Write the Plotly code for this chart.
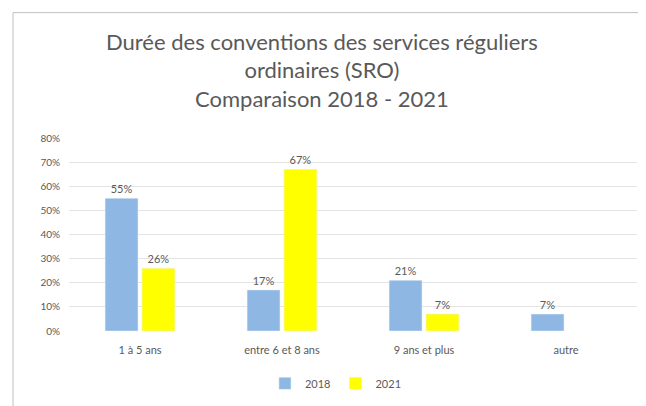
import plotly.graph_objects as go

categories = ["1 à 5 ans", "entre 6 et 8 ans", "9 ans et plus", "autre"]
values_2018 = [0.55, 0.17, 0.21, 0.07]
values_2021 = [0.26, 0.67, 0.07, None]
labels_2018 = ["55%", "17%", "21%", "7%"]
labels_2021 = ["26%", "67%", "7%", ""]

# page body adds an 8px margin, so the figure is a bit smaller than the window
W, H = 638, 398
ML, MR, MT, MB = 61, 9, 130, 74
font_family = "Lato, 'Open Sans', sans-serif"
grey = "#595959"

fig = go.Figure()
fig.add_trace(go.Bar(
    x=categories, y=values_2018, name="2018",
    marker=dict(color="#8EB8E3"),
    text=labels_2018, textposition="outside",
    textfont=dict(size=11, color=grey), cliponaxis=False,
))
fig.add_trace(go.Bar(
    x=categories, y=values_2021, name="2021",
    marker=dict(color="#FFFF00"),
    text=labels_2021, textposition="outside",
    textfont=dict(size=11, color=grey), cliponaxis=False,
))

# chart frame (pixel -> paper coords)
pw, ph = W - ML - MR, H - MT - MB
def px_x(x):
    return (x - ML) / pw
def px_y(y):
    return (H - MB - y) / ph

fig.add_shape(type="rect", xref="paper", yref="paper",
              x0=px_x(5), x1=px_x(700), y0=px_y(460), y1=px_y(4),
              line=dict(color="#BFBFBF", width=1), fillcolor="rgba(0,0,0,0)", layer="below")

fig.update_layout(
    width=W, height=H,
    margin=dict(l=ML, r=MR, t=MT, b=MB),
    paper_bgcolor="white", plot_bgcolor="white",
    font=dict(family=font_family, color=grey),
    title=dict(
        text="Durée des conventions des services réguliers<br>ordinaires (SRO)<br>Comparaison 2018 - 2021",
        x=0.492, xanchor="center", y=0.895, yanchor="top",
        font=dict(size=22, color=grey, family=font_family),
    ),
    barmode="group", bargap=0.48, bargroupgap=0.11,
    showlegend=True,
    legend=dict(orientation="h", x=0.47, xanchor="center", y=-0.19, yanchor="top",
                font=dict(size=11, color=grey)),
)
fig.update_xaxes(showline=False, ticks="", ticklabelstandoff=11,
                 tickfont=dict(size=11, color=grey))
fig.update_yaxes(range=[0, 0.8], dtick=0.1, tickformat=".0%",
                 gridcolor="#E4E4E4", zeroline=False, showline=False,
                 ticklabelstandoff=8, tickfont=dict(size=10, color=grey))

fig.write_html("out.html")
